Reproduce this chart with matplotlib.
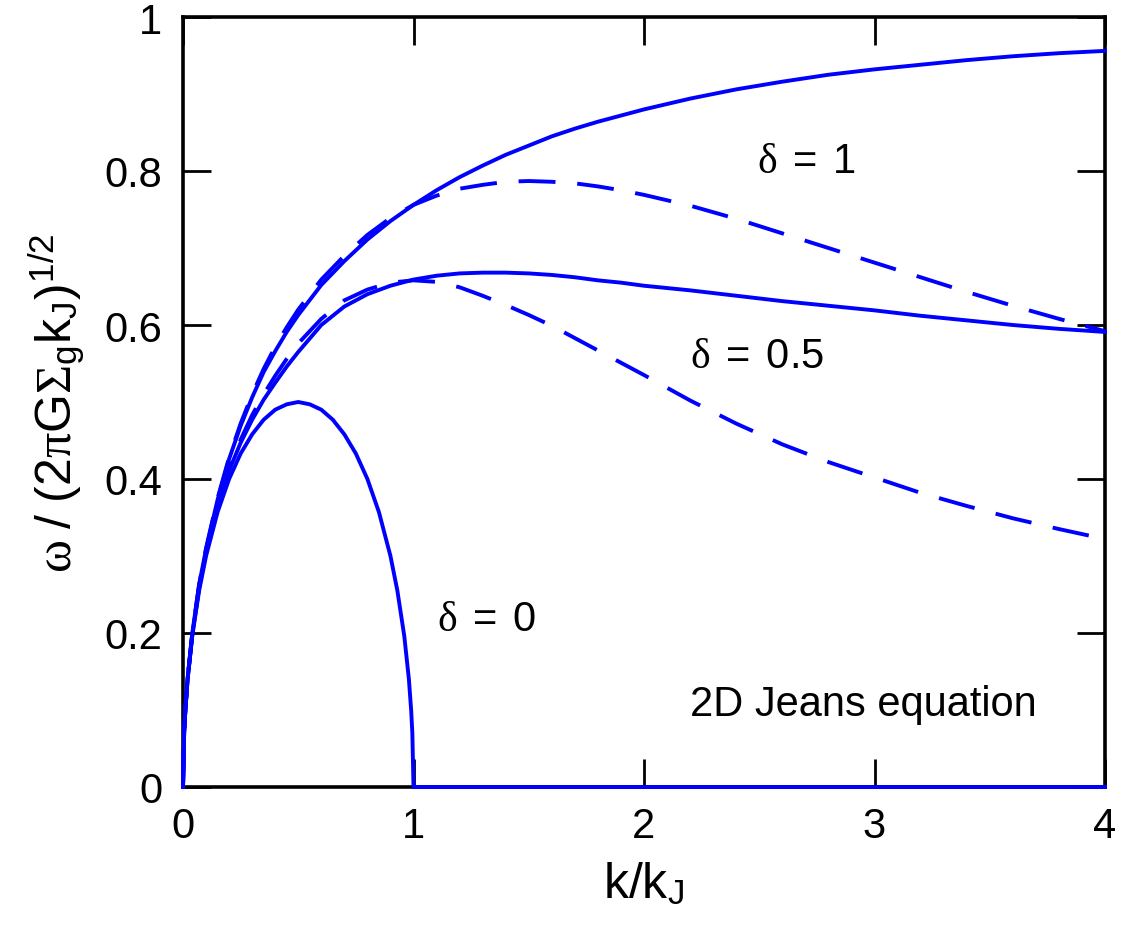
import matplotlib
matplotlib.use("Agg")
import matplotlib.pyplot as plt

plt.rcParams['font.family'] = ['Liberation Sans', 'DejaVu Sans']
plt.rcParams['mathtext.fontset'] = 'custom'
plt.rcParams['mathtext.rm'] = 'Liberation Serif'
plt.rcParams['mathtext.sf'] = 'Liberation Sans'
plt.rcParams['mathtext.it'] = 'Liberation Serif:italic'

# wavenumber k/k_J
k_zero = [0, 0.005, 0.01, 0.02, 0.04, 0.07, 0.1, 0.15, 0.2, 0.25, 0.3, 0.35, 0.4,
          0.45, 0.5, 0.55, 0.6, 0.65, 0.7, 0.75, 0.8, 0.85, 0.9, 0.93, 0.96, 0.98,
          0.99, 0.995, 1.0, 4.0]
w_zero = [0, 0.070, 0.099, 0.140, 0.196, 0.255, 0.300, 0.357, 0.400, 0.433, 0.458,
          0.477, 0.490, 0.497, 0.500, 0.497, 0.490, 0.477, 0.458, 0.433, 0.400,
          0.357, 0.300, 0.255, 0.196, 0.140, 0.099, 0.070, 0.0, 0.0]

k_vals = [0, 0.005, 0.01, 0.02, 0.04, 0.07, 0.1, 0.15, 0.2, 0.25, 0.3, 0.35, 0.4,
          0.45, 0.5, 0.6, 0.7, 0.8, 0.9, 1.0, 1.1, 1.2, 1.3, 1.4, 1.5, 1.6, 1.7,
          1.8, 1.9, 2.0, 2.2, 2.4, 2.6, 2.8, 3.0, 3.2, 3.4, 3.6, 3.8, 4.0]

# delta = 1
w_one_solid = [0, 0.071, 0.100, 0.141, 0.199, 0.263, 0.309, 0.373, 0.426, 0.469,
               0.506, 0.539, 0.566, 0.591, 0.613, 0.652, 0.683, 0.711, 0.735, 0.756,
               0.775, 0.792, 0.807, 0.821, 0.833, 0.845, 0.855, 0.864, 0.872, 0.880,
               0.894, 0.906, 0.916, 0.925, 0.932, 0.938, 0.944, 0.949, 0.953, 0.956]
w_one_dash = [0, 0.071, 0.100, 0.141, 0.199, 0.263, 0.310, 0.375, 0.428, 0.472,
              0.510, 0.543, 0.572, 0.597, 0.620, 0.659, 0.690, 0.717, 0.739, 0.756,
              0.768, 0.777, 0.782, 0.786, 0.787, 0.786, 0.784, 0.780, 0.775, 0.769,
              0.755, 0.738, 0.719, 0.700, 0.681, 0.662, 0.643, 0.625, 0.608, 0.592]

# delta = 0.5
w_half_solid = [0, 0.070, 0.099, 0.140, 0.197, 0.259, 0.304, 0.364, 0.411, 0.447,
                0.477, 0.503, 0.525, 0.546, 0.565, 0.600, 0.624, 0.640, 0.651, 0.659,
                0.664, 0.667, 0.668, 0.668, 0.667, 0.665, 0.662, 0.658, 0.655, 0.651,
                0.645, 0.638, 0.631, 0.625, 0.619, 0.612, 0.606, 0.600, 0.595, 0.591]
w_half_dash = [0, 0.070, 0.099, 0.140, 0.197, 0.260, 0.305, 0.366, 0.414, 0.451,
               0.483, 0.510, 0.534, 0.556, 0.576, 0.608, 0.632, 0.646, 0.655, 0.658,
               0.656, 0.649, 0.638, 0.626, 0.613, 0.599, 0.583, 0.567, 0.551, 0.535,
               0.502, 0.472, 0.445, 0.422, 0.402, 0.382, 0.365, 0.349, 0.335, 0.322]

x_ticks = [0, 1, 2, 3, 4]
y_ticks = [0, 0.2, 0.4, 0.6, 0.8, 1]
y_tick_labels = ['0', '0.2', '0.4', '0.6', '0.8', '1']

blue = '#0000ff'
lw = 2.8
dash_pattern = (9.5, 5.6)

fig = plt.figure(figsize=(11.25, 9.37), dpi=100)
ax = fig.add_axes([183 / 1125, 1 - 788 / 937, (1105 - 183) / 1125, (788 - 18) / 937])

ax.plot(k_zero, w_zero, color=blue, lw=lw, zorder=3, clip_on=False,
        solid_joinstyle='round')
ax.plot(k_vals, w_half_solid, color=blue, lw=lw, zorder=3, clip_on=False)
ax.plot(k_vals, w_one_solid, color=blue, lw=lw, zorder=3, clip_on=False)
ax.plot(k_vals, w_half_dash, color=blue, lw=lw, zorder=3, clip_on=False,
        dashes=dash_pattern)
ax.plot(k_vals, w_one_dash, color=blue, lw=lw, zorder=3, clip_on=False,
        dashes=dash_pattern)

ax.set_xlim(0, 4)
ax.set_ylim(0, 1)
ax.set_xticks(x_ticks)
ax.set_xticklabels([str(t) for t in x_ticks])
ax.set_yticks(y_ticks)
ax.set_yticklabels(y_tick_labels)

for side in ax.spines.values():
    side.set_linewidth(2.6)
    side.set_zorder(2.5)

ax.tick_params(axis='both', which='major', direction='in', length=20, width=2,
               top=True, right=True, labelsize=30, colors='black')
ax.tick_params(axis='x', pad=14)
ax.tick_params(axis='y', pad=15)

ax.set_xlabel(r'$\mathsf{k/k}_{\mathsf{J}}$', fontsize=36, labelpad=10)
ax.set_ylabel(r'$\mathrm{\omega}\ \mathsf{/\ (2}\mathrm{\pi}\mathsf{G}\mathrm{\Sigma}_{\mathsf{g}}'
              r'\mathsf{k}_{\mathsf{J}}\mathsf{)}^{\mathsf{1/2}}$', fontsize=36, labelpad=12)

ax.text(2.49, 0.813, r'$\mathrm{\delta}\mathsf{\ =\ 1}$', fontsize=30, ha='left', va='center')
ax.text(2.20, 0.560, r'$\mathrm{\delta}\mathsf{\ =\ 0.5}$', fontsize=30, ha='left', va='center')
ax.text(1.10, 0.218, r'$\mathrm{\delta}\mathsf{\ =\ 0}$', fontsize=30, ha='left', va='center')
ax.text(2.20, 0.108, '2D Jeans equation', fontsize=30, ha='left', va='center')

fig.savefig('out.png', dpi=100)
